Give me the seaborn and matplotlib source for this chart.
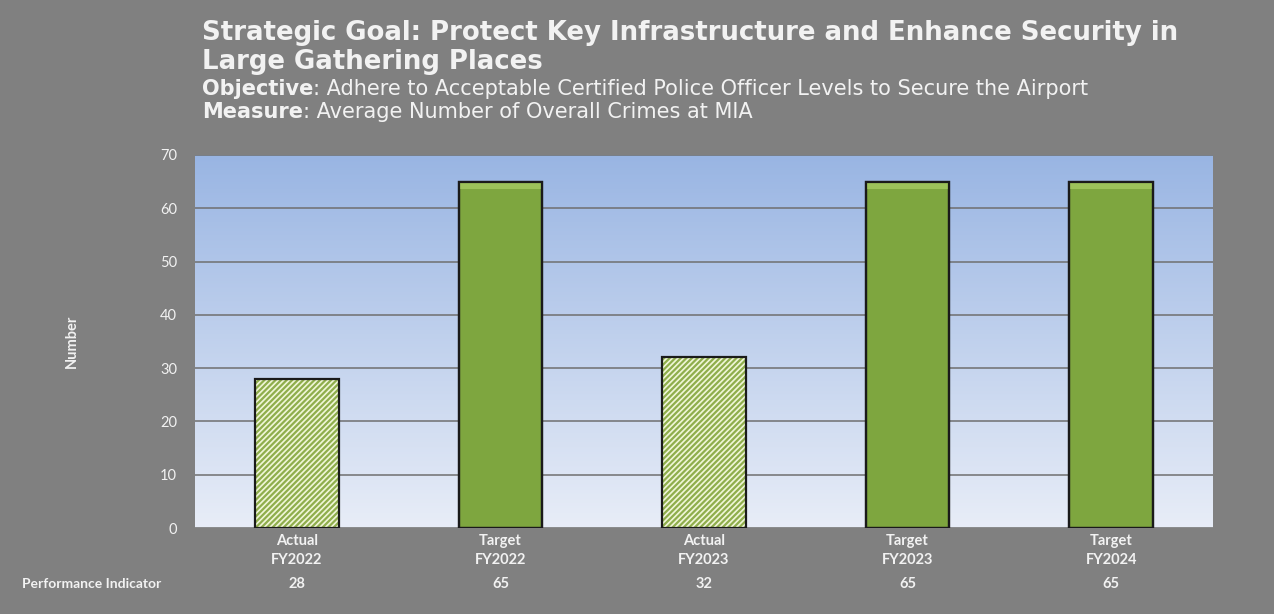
import numpy as np
import pandas as pd
import matplotlib
matplotlib.use("Agg")
import matplotlib.pyplot as plt
import matplotlib.transforms as mtransforms
from matplotlib.patches import Rectangle
import seaborn as sns

# Chart data
categories = ["Actual\nFY2022", "Target\nFY2022", "Actual\nFY2023", "Target\nFY2023", "Target\nFY2024"]
crimes = [28, 65, 32, 65, 65]
kinds = ["Actual", "Target", "Actual", "Target", "Target"]
indicator_labels = ["28", "65", "32", "65", "65"]
y_ticks = [0, 10, 20, 30, 40, 50, 60, 70]

df = pd.DataFrame({"category": categories, "crimes": crimes, "kind": kinds})

sns.set_theme(style="white")
plt.rcParams["font.family"] = ["DejaVu Sans"]
plt.rcParams["hatch.linewidth"] = 1.6

BG = "#808080"
TXT = "#f2f2f2"
SOLID = "#7ea63f"
HATCH_FILL = "#f0f6d8"
HATCH_LINE = "#8fae4c"
SMALL = ["Lato", "DejaVu Sans"]

fig = plt.figure(figsize=(12.74, 6.14), dpi=100, facecolor=BG)
ax = fig.add_axes([195 / 1274, 1 - 528 / 614, 1018 / 1274, 373 / 614])
ax.set_facecolor("none")

# Blue vertical gradient behind the plot
grad = np.linspace(0, 1, 256).reshape(-1, 1)
top = np.array([0.60, 0.71, 0.89])
bot = np.array([0.91, 0.93, 0.97])
img = bot + (top - bot) * grad
ax.imshow(img[:, None, :].repeat(2, axis=1), extent=[0, 1, 0, 1], origin="lower",
          transform=ax.transAxes, aspect="auto", zorder=0)

sns.barplot(data=df, x="category", y="crimes", order=categories, color=SOLID,
            width=0.41, ax=ax, zorder=3, saturation=1)

for patch, kind in zip(ax.patches, kinds):
    if kind == "Actual":
        patch.set_facecolor(HATCH_FILL)
        patch.set_edgecolor(HATCH_LINE)
        patch.set_hatch("//////")
        patch.set_linewidth(0)
    else:
        patch.set_edgecolor("#1a1a1a")
        patch.set_linewidth(1.6)
        # lighter bevel strip along the top of the solid bars
        ax.add_patch(Rectangle((patch.get_x(), patch.get_height() - 1.3), patch.get_width(), 1.3,
                               facecolor="#9cc25a", edgecolor="none", zorder=3.5))
    # dark outline drawn from the bar geometry
    ax.add_patch(Rectangle((patch.get_x(), patch.get_y()), patch.get_width(), patch.get_height(),
                           fill=False, edgecolor="#1a1a1a", linewidth=1.6, zorder=4))

ax.set_xlim(-0.5, len(categories) - 0.5)
ax.set_ylim(0, 70)
ax.set_yticks(y_ticks)
ax.yaxis.grid(True, color="#6f6f6f", linewidth=1.1, zorder=1)
ax.set_axisbelow(True)
for s in ax.spines.values():
    s.set_visible(False)

ax.tick_params(axis="y", colors=TXT, labelsize=10.5, length=0, pad=13)
ax.tick_params(axis="x", colors=TXT, labelsize=10.5, length=0, pad=4)
for lbl in ax.get_xticklabels():
    lbl.set_fontweight("bold")
    lbl.set_family(SMALL)
    lbl.set_linespacing(1.45)
for lbl in ax.get_yticklabels():
    lbl.set_family(SMALL)
ax.set_xlabel("")
ax.set_ylabel("Number", color=TXT, fontsize=10.5, fontweight="bold", labelpad=58,
              family=SMALL)

# Performance indicator row
trans = mtransforms.blended_transform_factory(ax.transData, fig.transFigure)
for i, v in enumerate(indicator_labels):
    ax.text(i, 1 - 584 / 614, v, transform=trans, ha="center", va="center",
            color=TXT, fontsize=10.5, fontweight="bold", family=SMALL)
fig.text(22 / 1274, 1 - 584 / 614, "Performance Indicator", ha="left", va="center",
         color=TXT, fontsize=10, fontweight="bold", family=SMALL)

# Heading block
x0 = 202 / 1274
fig.text(x0, 1 - 33 / 614, "Strategic Goal: Protect Key Infrastructure and Enhance Security in",
         color=TXT, fontsize=18.75, fontweight="bold", va="center", ha="left")
fig.text(x0, 1 - 62 / 614, "Large Gathering Places",
         color=TXT, fontsize=18.75, fontweight="bold", va="center", ha="left")

def label_line(y, head, body):
    t = fig.text(x0, 1 - y / 614, head, color=TXT, fontsize=15, fontweight="bold",
                 va="center", ha="left")
    fig.canvas.draw()
    bb = t.get_window_extent()
    fig.text(bb.x1 / fig.bbox.width, 1 - y / 614, body, color=TXT, fontsize=15,
             va="center", ha="left")

label_line(89, "Objective", ": Adhere to Acceptable Certified Police Officer Levels to Secure the Airport")
label_line(112, "Measure", ": Average Number of Overall Crimes at MIA")

fig.savefig("out.png", dpi=100, facecolor=BG)
